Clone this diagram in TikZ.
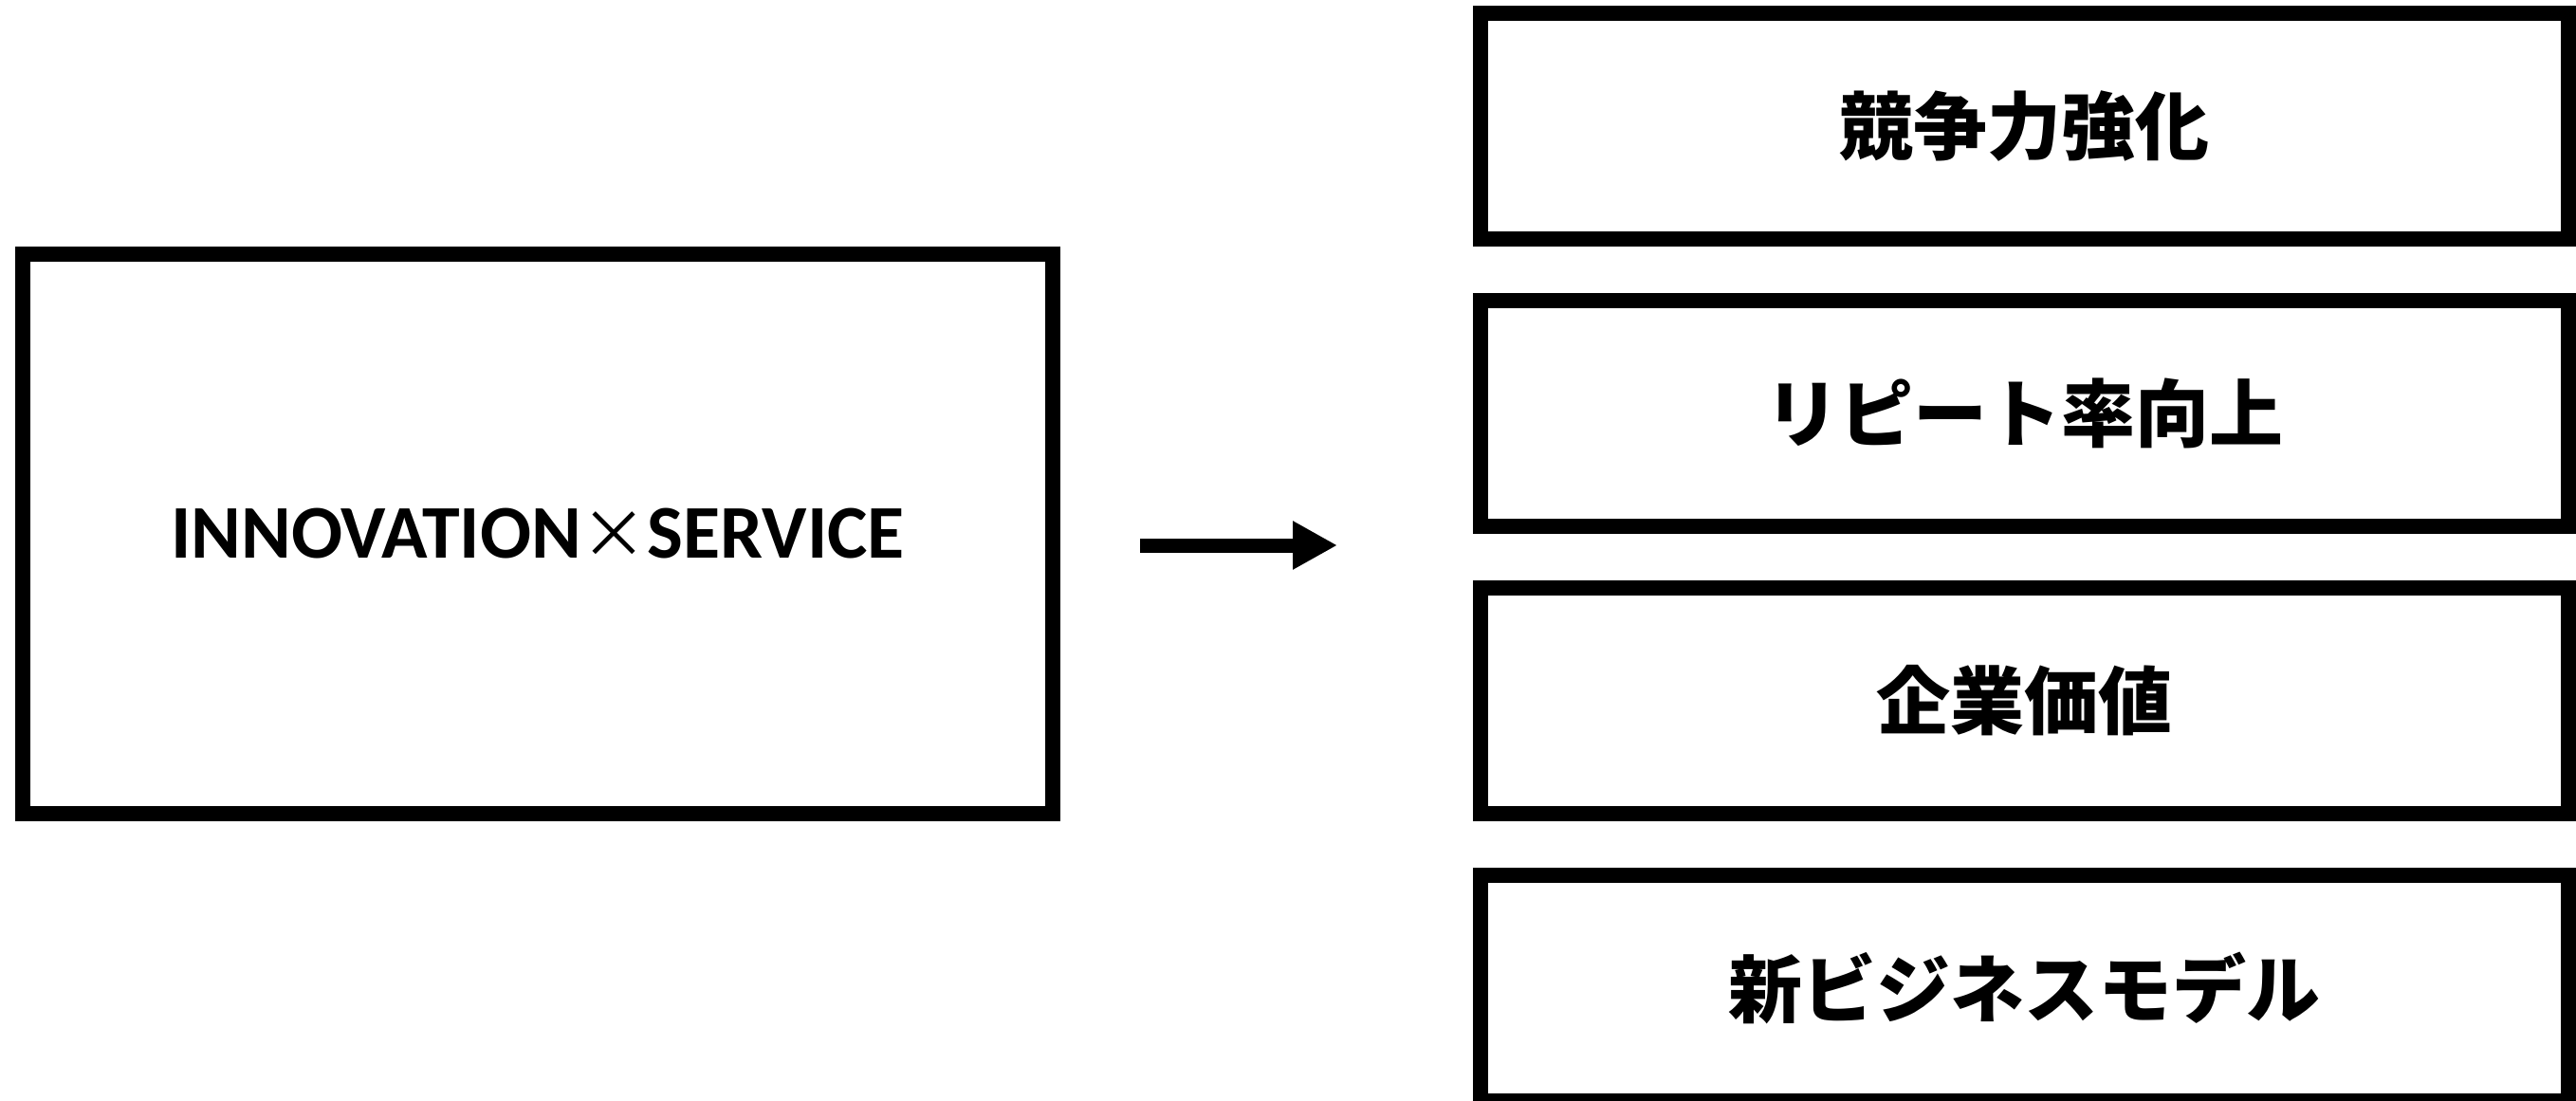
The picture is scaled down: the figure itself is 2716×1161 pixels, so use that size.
\documentclass[tikz,border=0pt]{standalone}
\usepackage{fontspec}
\setmainfont{Carlito}
\newfontfamily\jp{Noto Sans CJK JP}
\usetikzlibrary{arrows.meta,positioning}

\begin{document}
\begin{tikzpicture}[x=0.5pt,y=-0.5pt,node distance=32.5pt,line width=8pt]
  \tikzstyle{box}=[draw,rectangle,inner sep=0pt,outer sep=0pt]
  \tikzstyle{goal}=[box,minimum width=573.5pt,minimum height=119pt,
                    font=\jp\bfseries\fontsize{39}{39}\selectfont]

  \useasboundingbox (0,0) rectangle (2716,1161);

  \node[box,minimum width=543pt,minimum height=295pt,
        font=\bfseries\fontsize{40}{40}\selectfont] (1) at (567,563)
        {INNOVATION{\jp\mdseries\fontsize{35}{35}\selectfont ×}SERVICE};

  \node[goal] (2) at (2134.5,133) {競争力強化};
  \node[goal] (3) [below=of 2]     {リピート率向上};
  \node[goal] (4) [below=of 3]     {企業価値};
  \node[goal] (5) [below=of 4]     {新ビジネスモデル};

  \coordinate (a) at (1202,575);
  \coordinate (b) at (1410,575);

  \path (a) edge [-{Triangle[length=23.5pt,width=24pt]},line width=7.5pt] (b);

\end{tikzpicture}
\end{document}
